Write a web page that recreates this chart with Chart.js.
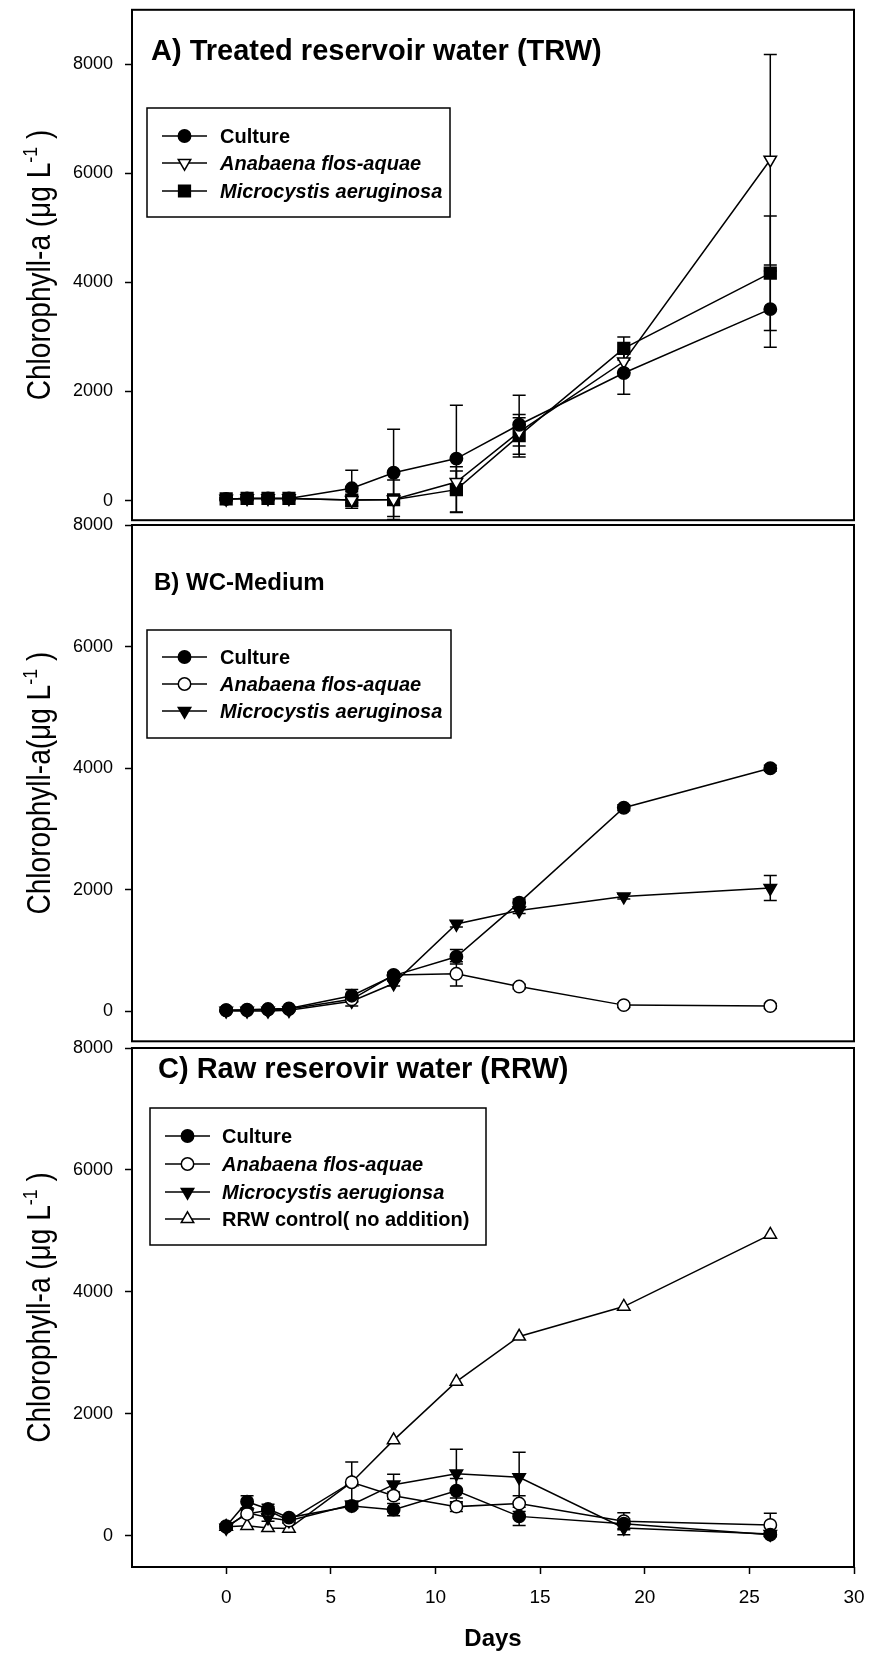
<!DOCTYPE html>
<html>
<head>
<meta charset="utf-8">
<script src="https://cdn.jsdelivr.net/npm/chart.js@4.4.1/dist/chart.umd.min.js"></script>
<style>
html, body { margin: 0; padding: 0; background: #fff; }
#wrap { position: relative; width: 872px; height: 1657px; }
.panel { position: absolute; left: 0; width: 872px; }
.panel canvas { display: block; }
</style>
</head>
<body>
<div id="wrap">
  <div class="panel" style="top:0;height:530px"><canvas id="chartA" width="872" height="530"></canvas></div>
  <div class="panel" style="top:505px;height:545px"><canvas id="chartB" width="872" height="545"></canvas></div>
  <div class="panel" style="top:1028px;height:629px"><canvas id="chartC" width="872" height="629"></canvas></div>
</div>
<script>
// sampling days (shared by all panels)
const days = [0, 1, 2, 3, 6, 8, 11, 14, 19, 26];
const yTicks = [0, 2000, 4000, 6000, 8000];
const xTicks = [0, 5, 10, 15, 20, 25, 30];

// A) treated reservoir water
const trwCulture = [30, 40, 40, 40, 225, 510, 770, 1390, 2340, 3510];
const trwCultureErr = [20, 20, 20, 20, 330, 800, 980, 540, 390, 700];
const trwAnabaena = [30, 40, 40, 40, 10, 20, 340, 1260, 2550, 6250];
const trwAnabaenaErr = [20, 20, 20, 20, 50, 60, 200, 260, 200, 1930];
const trwMicrocystis = [30, 40, 40, 40, 10, 15, 200, 1190, 2790, 4170];
const trwMicrocystisErr = [20, 20, 20, 20, 150, 360, 420, 390, 210, 1050];

// B) WC medium
const wcCulture = [20, 30, 40, 50, 260, 590, 900, 1790, 3350, 4000];
const wcCultureErr = [20, 20, 20, 20, 100, 50, 120, 60, 50, 50];
const wcAnabaena = [20, 20, 30, 40, 200, 600, 620, 410, 105, 90];
const wcAnabaenaErr = [10, 10, 10, 10, 40, 40, 200, 40, 40, 40];
const wcMicrocystis = [10, 10, 10, 20, 170, 460, 1440, 1660, 1890, 2030];
const wcMicrocystisErr = [10, 10, 10, 10, 80, 40, 50, 50, 40, 205];

// C) raw reservoir water
const rrwCulture = [160, 560, 440, 300, 490, 430, 740, 320, 200, 20];
const rrwCultureErr = [30, 100, 80, 40, 40, 100, 200, 150, 80, 30];
const rrwAnabaena = [150, 360, 420, 250, 880, 660, 480, 530, 240, 180];
const rrwAnabaenaErr = [30, 60, 60, 40, 330, 60, 80, 130, 140, 190];
const rrwMicrocystis = [130, 380, 300, 250, 510, 840, 1020, 960, 130, 30];
const rrwMicrocystisErr = [20, 60, 60, 40, 60, 170, 400, 410, 110, 30];
const rrwControl = [150, 165, 130, 120, 880, 1570, 2530, 3270, 3760, 4940];

const FONT = '"Liberation Sans", Arial, Helvetica, sans-serif';
Chart.defaults.font.family = FONT;
Chart.defaults.color = '#000';

function pts(vals) {
    return days.map((d, i) => ({ x: d, y: vals[i] }));
}

function series(label, vals, errs, style, filled, extra) {
    const radius = style === 'circle' ? 6.2 : (style === 'rect' ? 8.3 : 7.2);
    return Object.assign({
        label: label,
        data: pts(vals),
        errors: errs,
        borderColor: '#000',
        borderWidth: 1.5,
        pointStyle: style,
        pointRadius: radius,
        pointHoverRadius: radius,
        pointBorderColor: '#000',
        pointBorderWidth: 1.5,
        pointBackgroundColor: filled ? '#000' : '#fff',
        tension: 0,
        fill: false
    }, extra || {});
}

function drawMarker(ctx, ds, x, y) {
    const o = { pointStyle: ds.pointStyle, rotation: ds.pointRotation || 0, radius: ds.pointRadius, borderWidth: 1.5 };
    ctx.fillStyle = ds.pointBackgroundColor;
    ctx.strokeStyle = '#000';
    ctx.lineWidth = 1.5;
    if (Chart.helpers && Chart.helpers.drawPoint) {
        Chart.helpers.drawPoint(ctx, o, x, y);
    } else {
        ctx.beginPath();
        ctx.arc(x, y, ds.pointRadius, 0, Math.PI * 2);
        ctx.fill();
        ctx.stroke();
    }
}

const panelDecor = {
    id: 'panelDecor',
    beforeDatasetsDraw(chart) {
        // error bars
        const ctx = chart.ctx, xs = chart.scales.x, ys = chart.scales.y, a = chart.chartArea;
        ctx.save();
        ctx.beginPath();
        ctx.rect(a.left, a.top, a.right - a.left, a.bottom - a.top);
        ctx.clip();
        ctx.strokeStyle = '#000';
        ctx.lineWidth = 1.5;
        chart.data.datasets.forEach(ds => {
            if (!ds.errors) return;
            ds.data.forEach((p, i) => {
                const e = ds.errors[i];
                if (!e) return;
                const x = xs.getPixelForValue(p.x);
                const yt = ys.getPixelForValue(p.y + e);
                const yb = ys.getPixelForValue(p.y - e);
                ctx.beginPath();
                ctx.moveTo(x, yt); ctx.lineTo(x, yb);
                ctx.moveTo(x - 6.5, yt); ctx.lineTo(x + 6.5, yt);
                ctx.moveTo(x - 6.5, yb); ctx.lineTo(x + 6.5, yb);
                ctx.stroke();
            });
        });
        ctx.restore();
    },
    afterDraw(chart, args, opts) {
        const ctx = chart.ctx, a = chart.chartArea;
        ctx.save();
        // frame
        ctx.strokeStyle = '#000';
        ctx.lineWidth = 2;
        ctx.strokeRect(a.left, a.top, a.right - a.left, a.bottom - a.top);

        // panel title
        ctx.fillStyle = '#000';
        ctx.textAlign = 'left';
        ctx.textBaseline = 'alphabetic';
        ctx.font = 'bold ' + opts.titleSize + 'px ' + FONT;
        ctx.fillText(opts.title, opts.titleX, opts.titleY);

        // legend box
        const lg = opts.legend;
        ctx.lineWidth = 1.5;
        ctx.strokeRect(lg.x, lg.y, lg.w, lg.h);
        chart.data.datasets.forEach((ds, k) => {
            const y = lg.rows[k];
            ctx.strokeStyle = '#000';
            ctx.lineWidth = 1.5;
            ctx.beginPath();
            ctx.moveTo(lg.lineX0, y);
            ctx.lineTo(lg.lineX1, y);
            ctx.stroke();
            drawMarker(ctx, ds, lg.markX, y);
            ctx.fillStyle = '#000';
            ctx.textBaseline = 'middle';
            ctx.font = (ds.italic ? 'italic ' : '') + 'bold 20px ' + FONT;
            ctx.fillText(ds.label, lg.textX, y + 1);
        });

        // y axis title with superscript, slightly condensed
        const yt = opts.yTitle;
        const cy = (a.top + a.bottom) / 2;
        ctx.translate(50, cy);
        ctx.rotate(-Math.PI / 2);
        ctx.scale(0.85, 1);
        ctx.textBaseline = 'alphabetic';
        ctx.textAlign = 'left';
        ctx.font = '33px ' + FONT;
        const w1 = ctx.measureText(yt.pre).width;
        const w3 = ctx.measureText(yt.post).width;
        ctx.font = '21px ' + FONT;
        const w2 = ctx.measureText(yt.sup).width;
        let x = -(w1 + w2 + w3) / 2;
        ctx.font = '33px ' + FONT;
        ctx.fillText(yt.pre, x, 0);
        x += w1;
        ctx.font = '21px ' + FONT;
        ctx.fillText(yt.sup, x, -13);
        x += w2;
        ctx.font = '33px ' + FONT;
        ctx.fillText(yt.post, x, 0);
        ctx.restore();
    }
};

function yScale(min, max) {
    return {
        type: 'linear',
        position: 'left',
        min: min,
        max: max,
        afterBuildTicks: s => { s.ticks = yTicks.map(v => ({ value: v })); },
        afterFit: s => { s.width = 132; s.paddingTop = 0; s.paddingBottom = 0; },
        border: { display: false },
        grid: { drawOnChartArea: false, drawTicks: true, tickLength: 7, tickColor: '#000', tickWidth: 1.5 },
        ticks: { font: { size: 18 }, color: '#000', padding: 12, callback: v => String(v) }
    };
}

function xScale(show) {
    return {
        type: 'linear',
        position: 'bottom',
        display: show,
        min: -4.5,
        max: 30,
        afterBuildTicks: s => { s.ticks = xTicks.map(v => ({ value: v })); },
        afterFit: s => {
            if (!show) return;
            s.height = 90; s.paddingLeft = 0; s.paddingRight = 0;
        },
        border: { display: false },
        grid: { drawOnChartArea: false, drawTicks: true, tickLength: 7, tickColor: '#000', tickWidth: 1.5 },
        ticks: { font: { size: 19 }, color: '#000', padding: 12, maxRotation: 0, callback: v => String(v) },
        title: { display: true, text: 'Days', font: { size: 24, weight: 'bold' }, color: '#000', padding: { top: 0, bottom: 3 } }
    };
}

function makeChart(id, datasets, yMin, yMax, showX, padding, decor) {
    return new Chart(document.getElementById(id), {
        type: 'line',
        data: { datasets: datasets },
        options: {
            responsive: false,
            animation: false,
            events: [],
            layout: { padding: padding },
            scales: { x: xScale(showX), y: yScale(yMin, yMax) },
            plugins: { legend: { display: false }, tooltip: { enabled: false }, panelDecor: decor }
        },
        plugins: [panelDecor]
    });
}

makeChart('chartA', [
    series('Culture', trwCulture, trwCultureErr, 'circle', true),
    series('Anabaena flos-aquae', trwAnabaena, trwAnabaenaErr, 'triangle', false, { pointRotation: 180, italic: true }),
    series('Microcystis aeruginosa', trwMicrocystis, trwMicrocystisErr, 'rect', true, { italic: true })
], -360, 9000, false, { top: 7, bottom: 6, left: 0, right: 18 }, {
    title: 'A) Treated reservoir water (TRW)', titleSize: 29, titleX: 151, titleY: 60,
    yTitle: { pre: 'Chlorophyll-a (\u03bcg L', sup: '-1', post: ' )' },
    legend: { x: 147, y: 108, w: 303, h: 109, rows: [136, 163, 191], lineX0: 162, lineX1: 207, markX: 184.5, textX: 220 }
});

makeChart('chartB', [
    series('Culture', wcCulture, wcCultureErr, 'circle', true),
    series('Anabaena flos-aquae', wcAnabaena, wcAnabaenaErr, 'circle', false, { italic: true }),
    series('Microcystis aeruginosa', wcMicrocystis, wcMicrocystisErr, 'triangle', true, { pointRotation: 180, italic: true })
], -490, 8000, false, { top: 20, bottom: 6, left: 0, right: 18 }, {
    title: 'B) WC-Medium', titleSize: 24, titleX: 154, titleY: 85,
    yTitle: { pre: 'Chlorophyll-a(\u03bcg L', sup: '-1', post: ' )' },
    legend: { x: 147, y: 125, w: 304, h: 108, rows: [152, 179, 206], lineX0: 162, lineX1: 207, markX: 184.5, textX: 220 }
});

makeChart('chartC', [
    series('Culture', rrwCulture, rrwCultureErr, 'circle', true),
    series('Anabaena flos-aquae', rrwAnabaena, rrwAnabaenaErr, 'circle', false, { italic: true }),
    series('Microcystis aerugionsa', rrwMicrocystis, rrwMicrocystisErr, 'triangle', true, { pointRotation: 180, italic: true }),
    series('RRW control( no addition)', rrwControl, null, 'triangle', false)
], -510, 8000, true, { top: 20, bottom: 0, left: 0, right: 18 }, {
    title: 'C) Raw reserovir water (RRW)', titleSize: 29, titleX: 158, titleY: 50,
    yTitle: { pre: 'Chlorophyll-a (\u03bcg L', sup: '-1', post: ' )' },
    legend: { x: 150, y: 80, w: 336, h: 137, rows: [108, 136, 164, 191], lineX0: 165, lineX1: 210, markX: 187.5, textX: 222 }
});
</script>
</body>
</html>
